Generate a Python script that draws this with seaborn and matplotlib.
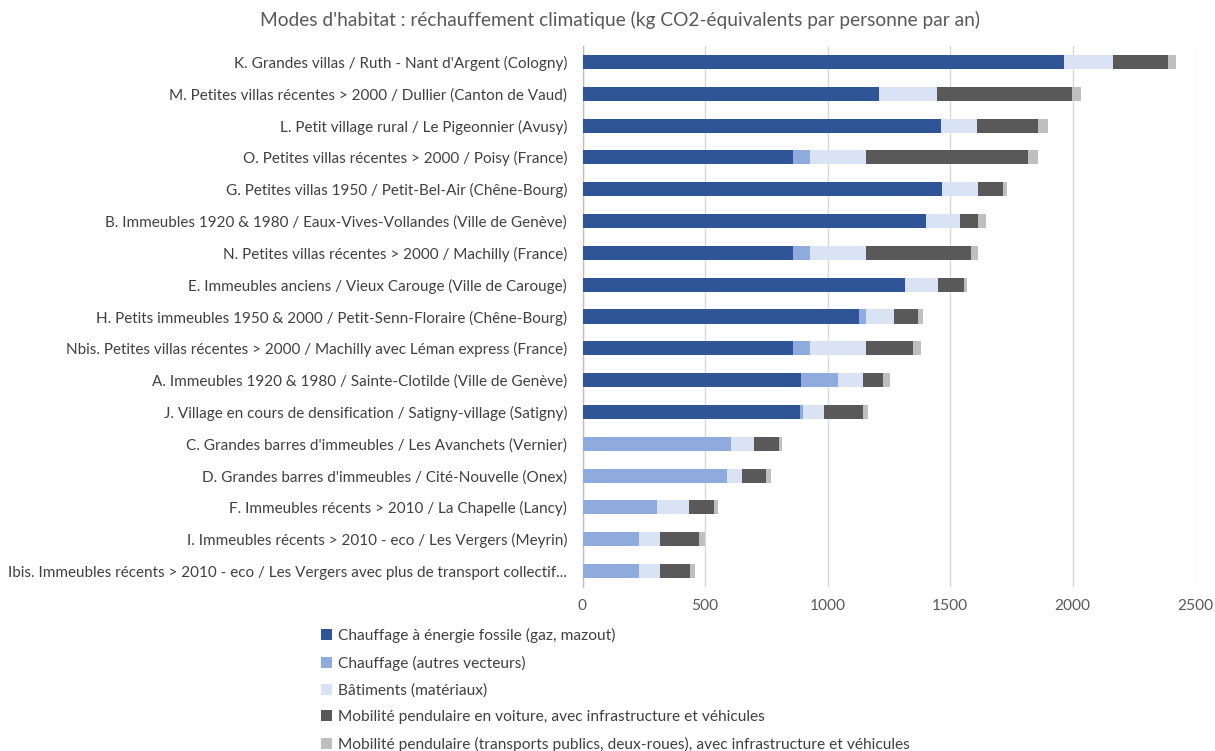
import numpy as np
import pandas as pd
import matplotlib
matplotlib.use("Agg")
import matplotlib.pyplot as plt
import seaborn as sns
from matplotlib.patches import Patch

categories = [
    "K. Grandes villas / Ruth - Nant d'Argent (Cologny)",
    "M. Petites villas récentes > 2000 / Dullier (Canton de Vaud)",
    "L. Petit village rural / Le Pigeonnier (Avusy)",
    "O. Petites villas récentes > 2000 / Poisy (France)",
    "G. Petites villas 1950 / Petit-Bel-Air (Chêne-Bourg)",
    "B. Immeubles 1920 & 1980 / Eaux-Vives-Vollandes (Ville de Genève)",
    "N. Petites villas récentes > 2000 / Machilly (France)",
    "E. Immeubles anciens / Vieux Carouge (Ville de Carouge)",
    "H. Petits immeubles 1950 & 2000 / Petit-Senn-Floraire (Chêne-Bourg)",
    "Nbis. Petites villas récentes > 2000 / Machilly avec Léman express (France)",
    "A. Immeubles 1920 & 1980 / Sainte-Clotilde (Ville de Genève)",
    "J. Village en cours de densification / Satigny-village (Satigny)",
    "C. Grandes barres d'immeubles / Les Avanchets (Vernier)",
    "D. Grandes barres d'immeubles / Cité-Nouvelle (Onex)",
    "F. Immeubles récents > 2010 / La Chapelle (Lancy)",
    "I. Immeubles récents > 2010 - eco / Les Vergers (Meyrin)",
    "Ibis. Immeubles récents > 2010 - eco / Les Vergers avec plus de transport collectif...",
]

chauffage_fossile = [1964, 1212, 1465, 861, 1468, 1400, 861, 1318, 1128, 861, 893, 888, 0, 0, 0, 0, 0]
chauffage_autres = [0, 0, 0, 66, 0, 0, 66, 0, 28, 66, 148, 11, 608, 590, 305, 230, 230]
batiments = [200, 234, 147, 229, 148, 142, 229, 132, 114, 229, 105, 87, 91, 59, 129, 87, 87]
mobilite_voiture = [226, 552, 248, 663, 102, 74, 431, 107, 101, 193, 79, 157, 104, 102, 101, 158, 121]
mobilite_tp = [31, 36, 42, 41, 16, 31, 29, 13, 18, 32, 29, 22, 11, 18, 18, 25, 20]

series_labels = [
    "Chauffage à énergie fossile (gaz, mazout)",
    "Chauffage (autres vecteurs)",
    "Bâtiments (matériaux)",
    "Mobilité pendulaire en voiture, avec infrastructure et véhicules",
    "Mobilité pendulaire (transports publics, deux-roues), avec infrastructure et véhicules",
]
series_colors = ["#2F5597", "#8FAADC", "#DAE3F3", "#595959", "#BFBFBF"]
x_ticks = [0, 500, 1000, 1500, 2000, 2500]

sns.set_theme(style="white")
plt.rcParams["font.family"] = ["Lato", "DejaVu Sans"]

df = pd.DataFrame({
    "categorie": categories,
    "s0": chauffage_fossile,
    "s1": chauffage_autres,
    "s2": batiments,
    "s3": mobilite_voiture,
    "s4": mobilite_tp,
})
cols = ["s0", "s1", "s2", "s3", "s4"]
cum = df[cols].cumsum(axis=1)

fig = plt.figure(figsize=(12.15, 7.51), dpi=100)
ax = fig.add_axes([582.5 / 1215, 1 - 587 / 751, (1195 - 582.5) / 1215, (587 - 46) / 751])

# stacked bars: draw cumulative totals from the outermost segment inwards
for i in range(len(cols) - 1, -1, -1):
    sns.barplot(
        x=cum[cols[i]], y=df["categorie"], orient="h",
        color=series_colors[i], width=0.44, ax=ax,
        saturation=1, linewidth=0, zorder=3,
    )

ax.set_xlim(0, 2500)
ax.set_ylim(len(categories) - 0.5, -0.5)
ax.set_xticks(x_ticks)
ax.set_xticklabels([str(t) for t in x_ticks])
ax.set_xlabel("")
ax.set_ylabel("")
ax.xaxis.grid(True, color="#D9D9D9", linewidth=1, zorder=0)
ax.set_axisbelow(True)
for s in ["top", "right", "bottom"]:
    ax.spines[s].set_visible(False)
ax.spines["left"].set_color("#BFBFBF")
ax.spines["left"].set_linewidth(1)
ax.tick_params(axis="x", length=0, pad=9, labelsize=11.2, labelcolor="#595959")
ax.tick_params(axis="y", length=0, pad=11, labelsize=11, labelcolor="#404040")

fig.text(620 / 1215, 1 - 20 / 751, "Modes d'habitat : réchauffement climatique (kg CO2-équivalents par personne par an)",
         ha="center", va="center", fontsize=13.8, color="#595959")

handles = [Patch(facecolor=c, edgecolor="none") for c in series_colors]
fig.legend(handles, series_labels, loc="upper left", bbox_to_anchor=(315 / 1215, 1 - 622 / 751),
           frameon=False, ncol=1, fontsize=11.2, labelcolor="#404040",
           handlelength=0.7, handleheight=0.7, handletextpad=0.4, labelspacing=0.8,
           borderaxespad=0)

fig.savefig("out.png", dpi=100)
